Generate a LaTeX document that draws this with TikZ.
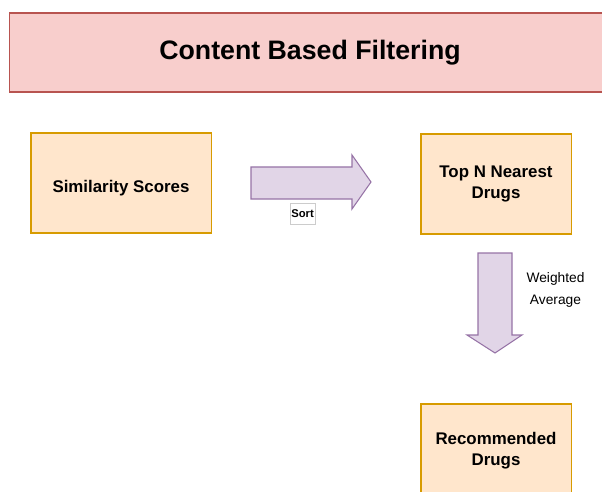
\documentclass[tikz,border=0pt]{standalone}
\usepackage{fontspec}
\setmainfont{Liberation Sans}
\usetikzlibrary{positioning}

\definecolor{titlefill}{HTML}{F8CECC}
\definecolor{titleline}{HTML}{B85450}
\definecolor{boxfill}{HTML}{FFE6CC}
\definecolor{boxline}{HTML}{D79B00}
\definecolor{arrowfill}{HTML}{E1D5E7}
\definecolor{arrowline}{HTML}{9673A6}

\begin{document}
\begin{tikzpicture}[x=0.025cm, y=-0.025cm,
	box/.style={draw=boxline, fill=boxfill, line width=0.75pt, minimum height=2.5cm, align=center, font=\bfseries\fontsize{12}{15}\selectfont},
	blockarrow/.style={draw=arrowline, fill=arrowfill, line width=0.75pt, line join=miter}]
\useasboundingbox (0,0) rectangle (602,491);
\clip (0,0) rectangle (602,491);
\node[draw=titleline, fill=titlefill, line width=0.75pt, minimum width=15cm, minimum height=1.975cm, text height=13.6pt, text depth=4.35pt, font=\bfseries\fontsize{19}{23}\selectfont] (title) at (310,52.5) {Content Based Filtering};
\node[box, minimum width=4.5cm, text height=13.8pt, text depth=0pt] (scores) at (121,183) {Similarity Scores};
\node[box, minimum width=3.75cm] (nearest) at (496,184) {Top N Nearest\\Drugs};
\node[box, minimum width=3.75cm, minimum height=2.35cm] (recommended) at (496,451) {Recommended\\Drugs};
% block arrows
\draw[blockarrow] (251,167) -- (352,167) -- (352,155) -- (371,182) -- (352,209) -- (352,199) -- (251,199) -- cycle;
\draw[blockarrow] (478,253) -- (512,253) -- (512,335) -- (522,335) -- (495,353) -- (467,335) -- (478,335) -- cycle;
\node[draw=gray!40, fill=white, line width=0.4pt, inner xsep=0.8pt, inner ysep=0pt, minimum height=0.525cm, font=\bfseries\fontsize{8}{9}\selectfont] (sort) at (302.5,213.5) {Sort};
\node[align=center, font=\fontsize{9.8}{15.5}\selectfont] (weighted) at (555.5,290) {Weighted\\Average};
\end{tikzpicture}
\end{document}
